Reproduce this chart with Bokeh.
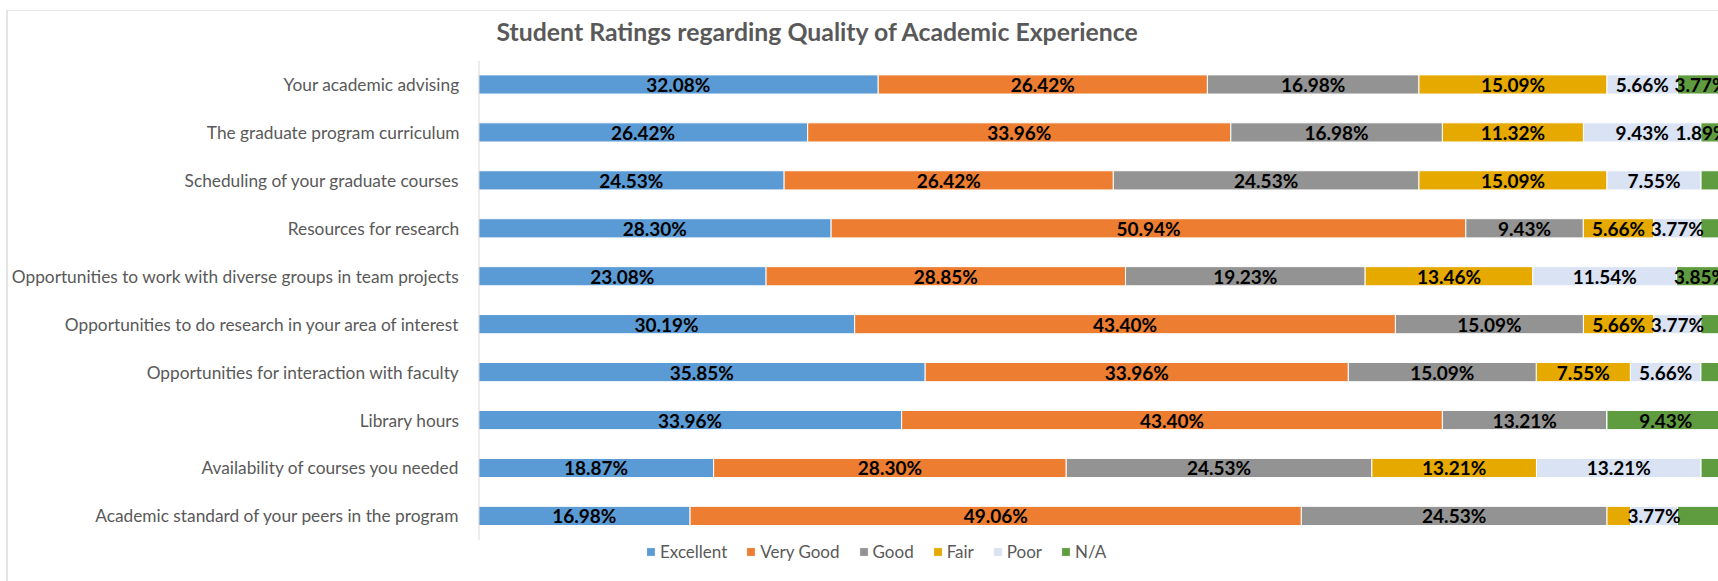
from bokeh.plotting import figure
from bokeh.models import ColumnDataSource, Range1d, Legend, LegendItem, FixedTicker
from bokeh.core.properties import value
from bokeh.embed import file_html
from bokeh.resources import INLINE

# ---------------- data ----------------
categories = [
    "Your academic advising",
    "The graduate program curriculum",
    "Scheduling of your graduate courses",
    "Resources for research",
    "Opportunities to work with diverse groups in team projects",
    "Opportunities to do research in your area of interest",
    "Opportunities for interaction with faculty",
    "Library hours",
    "Availability of courses you needed",
    "Academic standard of your peers in the program",
]
series_names = ["Excellent", "Very Good", "Good", "Fair", "Poor", "N/A"]
excellent = [32.08, 26.42, 24.53, 28.30, 23.08, 30.19, 35.85, 33.96, 18.87, 16.98]
very_good = [26.42, 33.96, 26.42, 50.94, 28.85, 43.40, 33.96, 43.40, 28.30, 49.06]
good      = [16.98, 16.98, 24.53, 9.43, 19.23, 15.09, 15.09, 13.21, 24.53, 24.53]
fair      = [15.09, 11.32, 15.09, 5.66, 13.46, 5.66, 7.55, 0.00, 13.21, 1.89]
poor      = [5.66, 9.43, 7.55, 3.77, 11.54, 3.77, 5.66, 0.00, 13.21, 3.77]
na        = [3.77, 1.89, 1.89, 1.89, 3.85, 1.89, 1.89, 9.43, 1.89, 3.77]

# data labels that are not shown in the original chart (row index, series)
hidden_labels = [
    (9, "Fair"),
    (2, "N/A"), (3, "N/A"), (5, "N/A"), (6, "N/A"), (8, "N/A"), (9, "N/A"),
]

colors = ["#5B9BD5", "#ED7D31", "#939393", "#E5A900", "#DAE3F3", "#5F9B3F"]
TXT = "#595959"
FONT = "Lato"

# ---------------- layout constants ----------------
FRAME_W, FRAME_H = 1240, 522
BAND_PX = 47.94          # height of one category row in pixels
X_MAX = 99.52            # the chart is cut at the right edge of the picture
LABEL_MAX = 98.2         # labels are kept inside the chart area

n = len(categories)
positions = [n - i for i in range(n)]          # first category on top

series = [excellent, very_good, good, fair, poor, na]
keys = ["s%d" % i for i in range(len(series))]
data = {"pos": positions}
for k, s in zip(keys, series):
    data[k] = s
src = ColumnDataSource(data)

p = figure(
    frame_width=FRAME_W, frame_height=FRAME_H,
    y_range=Range1d(n + 0.5 - FRAME_H / BAND_PX, n + 0.5),
    x_range=Range1d(0, X_MAX),
    x_axis_location=None,
    output_backend="svg", toolbar_location=None,
    min_border_left=478, min_border_right=0, min_border_top=59, min_border_bottom=0,
    styles={
        "background": "linear-gradient(#e4e4e4, #e4e4e4) 6px 10px / 2px 100% no-repeat, "
                      "linear-gradient(#e8e8e8, #e8e8e8) 6px 10px / 100% 1px no-repeat, white",
    },
)
p.border_fill_alpha = 0
p.outline_line_color = None
p.xgrid.visible = False
p.ygrid.visible = False

renderers = p.hbar_stack(keys, y="pos", height=0.4, color=colors, source=src,
                         line_color="white", line_width=1)

# category axis line (spans the category rows only)
p.segment(x0=[0], y0=[0.5], x1=[0], y1=[n + 0.5], line_color="#D9D9D9", line_width=2)

# data labels
lx, ly, lt = [], [], []
for i in range(n):
    left = 0.0
    for name, s in zip(series_names, series):
        v = s[i]
        if v > 0 and (i, name) not in hidden_labels:
            lx.append(min(left + v / 2.0, LABEL_MAX))
            ly.append(positions[i])
            lt.append("%.2f%%" % v)
        left += v
lsrc = ColumnDataSource(dict(x=lx, y=ly, t=lt))
p.text(x="x", y="y", text="t", source=lsrc, text_align="center", text_baseline="middle",
       text_font=value(FONT), text_font_style="bold", text_font_size="19px", text_color="black")

yax = p.yaxis[0]
yax.ticker = FixedTicker(ticks=positions)
yax.major_label_overrides = {pos: cat for pos, cat in zip(positions, categories)}
yax.axis_line_color = None
yax.major_tick_line_color = None
yax.minor_tick_line_color = None
yax.major_tick_out = 0
yax.major_tick_in = 0
yax.major_label_standoff = 19
yax.major_label_text_font = FONT
yax.major_label_text_font_size = "17.3px"
yax.major_label_text_color = TXT

p.title.text = "Student Ratings regarding Quality of Academic Experience"
p.title.text_font = FONT
p.title.text_font_style = "bold"
p.title.text_font_size = "24.8px"
p.title.text_color = TXT
p.title.align = "left"
p.title.offset = 18
p.title.standoff = 29

legend = Legend(
    items=[LegendItem(label=nm, renderers=[r]) for nm, r in zip(series_names, renderers)],
    orientation="horizontal", location=(167, 20),
    glyph_width=11, glyph_height=11, label_height=11, label_standoff=4, spacing=18,
    padding=0, margin=0, border_line_color=None, background_fill_alpha=0,
    label_text_font=FONT, label_text_font_size="17px", label_text_color=TXT,
)
p.add_layout(legend)

open("out.html", "w").write(file_html(p, INLINE))
